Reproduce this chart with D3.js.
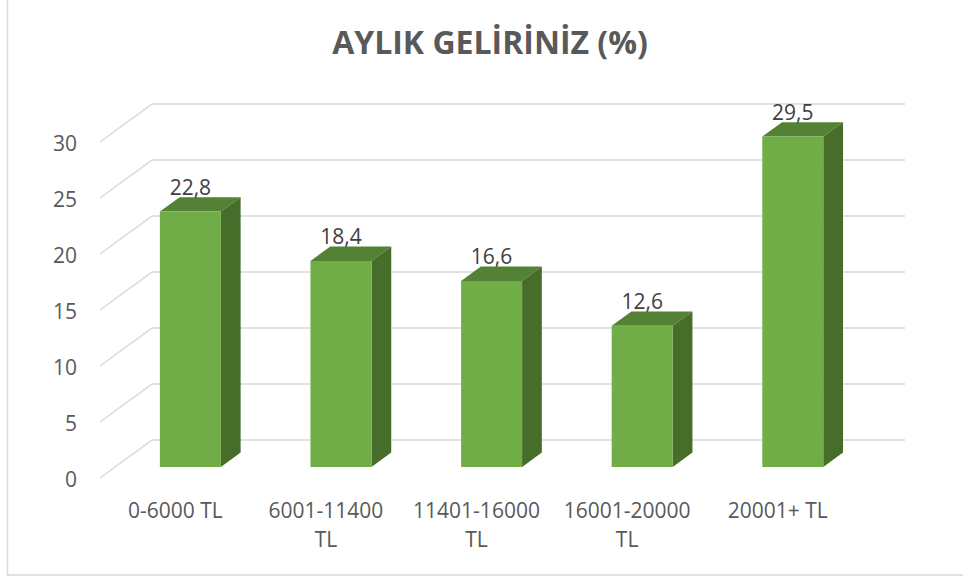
<!DOCTYPE html>
<html lang="tr">
<head>
    <meta charset="UTF-8">
    <title>AYLIK GELİRİNİZ (%)</title>
    <script src="https://cdnjs.cloudflare.com/ajax/libs/d3/7.8.5/d3.min.js"></script>
    <style>
        body {
            margin: 0;
            padding: 0;
            background-color: #fff;
            font-family: "Open Sans", "Noto Sans", sans-serif;
        }
    </style>
</head>
<body>
    <div id="chart"></div>

    <script>
        // Data
        const categories = ["0-6000 TL", "6001-11400 TL", "11401-16000 TL", "16001-20000 TL", "20001+ TL"];
        const values = [22.8, 18.4, 16.6, 12.6, 29.5];
        const yTicks = [0, 5, 10, 15, 20, 25, 30];
        const title = "AYLIK GELİRİNİZ (%)";

        // Dimensions
        const width = 963;
        const height = 579;

        // floor front edge and depth vector (front -> back wall)
        const floorLeft = 100, floorRight = 853;
        const depthX = 52, depthY = -38;
        const barDepth0 = 0.29, barDepth1 = 0.67;

        const svg = d3.select("#chart")
            .append("svg")
            .attr("width", width)
            .attr("height", height);

        // chart area border
        svg.append("rect")
            .attr("x", 7.5)
            .attr("y", -5)
            .attr("width", 1000)
            .attr("height", 580)
            .attr("fill", "#fff")
            .attr("stroke", "#d9d9d9")
            .attr("stroke-width", 1.5);

        const x = d3.scaleBand()
            .domain(categories)
            .range([floorLeft, floorRight]);

        // y on the front plane of the floor
        const y = d3.scaleLinear()
            .domain([0, 30])
            .range([478, 142]);

        // project a point (x on front, value, depth 0..1)
        const px = (xv, d) => xv + d * depthX;
        const py = (v, d) => y(v) + d * depthY;

        // Gridlines: left side wall diagonal + back wall
        const grid = svg.append("g");
        yTicks.forEach(t => {
            grid.append("path")
                .attr("d", d3.line()([
                    [px(floorLeft, 0), py(t, 0)],
                    [px(floorLeft, 1), py(t, 1)],
                    [px(floorRight, 1), py(t, 1)]
                ]))
                .attr("fill", "none")
                .attr("stroke", "#d9d9d9")
                .attr("stroke-width", 1.5);
        });

        // Y tick labels
        svg.append("g")
            .selectAll("text")
            .data(yTicks)
            .enter().append("text")
            .attr("x", 77)
            .attr("y", d => y(d) + 9)
            .attr("text-anchor", "end")
            .attr("fill", "#595959")
            .style("font-size", "21px")
            .text(d => d);

        // Bars
        const barW = x.bandwidth() * 0.405;
        const bars = svg.append("g")
            .selectAll("g")
            .data(categories.map((c, i) => ({ c, v: values[i] })))
            .enter().append("g");

        const poly = pts => "M" + pts.map(p => p.join(",")).join("L") + "Z";

        bars.each(function(d) {
            const g = d3.select(this);
            const xl = x(d.c) + (x.bandwidth() - barW) / 2;
            const xr = xl + barW;
            // top
            g.append("path")
                .attr("d", poly([
                    [px(xl, barDepth0), py(d.v, barDepth0)],
                    [px(xr, barDepth0), py(d.v, barDepth0)],
                    [px(xr, barDepth1), py(d.v, barDepth1)],
                    [px(xl, barDepth1), py(d.v, barDepth1)]
                ]))
                .attr("fill", "#548235");
            // side
            g.append("path")
                .attr("d", poly([
                    [px(xr, barDepth0), py(0, barDepth0)],
                    [px(xr, barDepth0), py(d.v, barDepth0)],
                    [px(xr, barDepth1), py(d.v, barDepth1)],
                    [px(xr, barDepth1), py(0, barDepth1)]
                ]))
                .attr("fill", "#476d2a");
            // front
            g.append("path")
                .attr("d", poly([
                    [px(xl, barDepth0), py(0, barDepth0)],
                    [px(xr, barDepth0), py(0, barDepth0)],
                    [px(xr, barDepth0), py(d.v, barDepth0)],
                    [px(xl, barDepth0), py(d.v, barDepth0)]
                ]))
                .attr("fill", "#70ad47");
            // value label
            g.append("text")
                .attr("x", px((xl + xr) / 2, barDepth0))
                .attr("y", py(d.v, barDepth0) - 17)
                .attr("text-anchor", "middle")
                .attr("fill", "#404040")
                .style("font-size", "21px")
                .text(String(d.v).replace(".", ","));
        });

        // Category labels (wrapped)
        const catLabels = svg.append("g")
            .selectAll("text")
            .data(categories)
            .enter().append("text")
            .attr("text-anchor", "middle")
            .attr("fill", "#595959")
            .style("font-size", "21px")
            .attr("transform", d => `translate(${x(d) + x.bandwidth() / 2},518)`);

        catLabels.each(function(d) {
            const t = d3.select(this);
            const lines = d.length > 10 ? [d.slice(0, d.lastIndexOf(" ")), d.slice(d.lastIndexOf(" ") + 1)] : [d];
            lines.forEach((l, i) => {
                t.append("tspan")
                    .attr("x", 0)
                    .attr("y", i * 28.5)
                    .text(l);
            });
        });

        // Title
        svg.append("text")
            .attr("x", 490)
            .attr("y", 54)
            .attr("text-anchor", "middle")
            .attr("fill", "#595959")
            .style("font-size", "32px")
            .style("font-weight", "bold")
            .text(title);
    </script>
</body>
</html>
